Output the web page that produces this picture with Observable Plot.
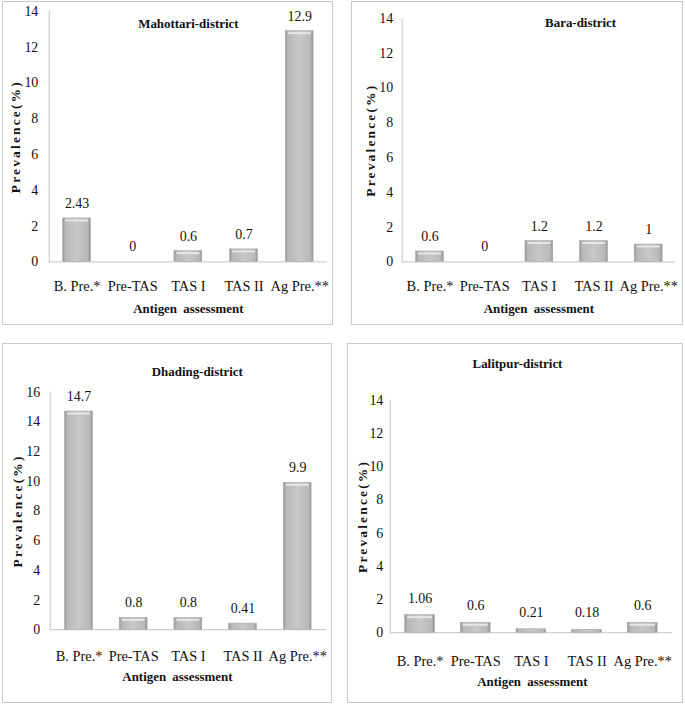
<!DOCTYPE html>
<html>
<head>
<meta charset="utf-8">
<script src="https://cdn.jsdelivr.net/npm/d3@7"></script>
<script src="https://cdn.jsdelivr.net/npm/@observablehq/plot@0.6"></script>
<style>
  html, body { margin: 0; padding: 0; background: #fff; }
  #fig { position: relative; width: 685px; height: 706px; overflow: hidden; background: #fff; }
  .panel { position: absolute; box-sizing: border-box; border: 1px solid #cacaca; }
  .panel svg { position: absolute; left: -1px; top: -1px; overflow: visible; }
</style>
</head>
<body>
<div id="fig"></div>
<script>
// ---- data ----
const categories = ["B. Pre.*", "Pre-TAS", "TAS I", "TAS II", "Ag Pre.**"];
const districts = ["Mahottari-district", "Bara-district", "Dhading-district", "Lalitpur-district"];
const mahottari = [2.43, 0, 0.6, 0.7, 12.9];
const bara = [0.6, 0, 1.2, 1.2, 1];
const dhading = [14.7, 0.8, 0.8, 0.41, 9.9];
const lalitpur = [1.06, 0.6, 0.21, 0.18, 0.6];
const yMaxes = [14, 14, 16, 14];
const yTitle = "Prevalence(%)";
const xTitle = "Antigen assessment";
const seriesList = [mahottari, bara, dhading, lalitpur];

// ---- layout (positions only) ----
const layouts = [
  {left: 2, top: 1, w: 331, h: 324, m: [10, 4, 62, 47], yPad: 11, xPad: 19, tDx: 0, tDy: 12, yDx: -34, xDy: 47, xDx: 0, lDy: -15, pin: 0.5},
  {left: 351, top: 1, w: 332, h: 324, m: [17, 6, 62, 51], yPad: 9, xPad: 19, tDx: 42, tDy: 4, yDx: -32, xDy: 47, xDx: 0, lDy: -15, pin: 0.5},
  {left: 2, top: 343, w: 330, h: 360, m: [49, 4, 72, 48], yPad: 10, xPad: 21, tDx: 9, tDy: -20, yDx: -33, xDy: 47, xDx: -11, lDy: -15, pin: 0.5},
  {left: 347, top: 343, w: 336, h: 360, m: [57, 9, 69, 43], yPad: 7, xPad: 23, tDx: -14, tDy: -37, yDx: -28, xDy: 49, xDx: 1, lDy: -17, pin: 0.47}
];

const fig = document.getElementById("fig");

seriesList.forEach((vals, i) => {
  const L = layouts[i];
  const data = categories.map((c, j) => ({cat: c, value: vals[j]}));
  const yMax = yMaxes[i];
  const gid = "barGrad" + i;

  const plot = Plot.plot({
    width: L.w,
    height: L.h,
    marginTop: L.m[0],
    marginRight: L.m[1],
    marginBottom: L.m[2],
    marginLeft: L.m[3],
    style: {fontFamily: "'Liberation Serif', 'Times New Roman', serif", fontSize: "14px", color: "#111", background: "transparent"},
    x: {domain: categories, paddingInner: L.pin, paddingOuter: L.pin / 2},
    y: {domain: [0, yMax]},
    marks: [
      Plot.frame({anchor: "left", stroke: "#c4c4c4"}),
      Plot.ruleY([0], {stroke: "#c4c4c4", strokeWidth: 1}),
      Plot.barY(data, {x: "cat", y: "value", fill: "#c4c4c4", stroke: "#a8a8a8", strokeWidth: 0.6}),
      Plot.tickY(data.filter(d => d.value >= 0.5), {x: "cat", y: "value", dy: 2, stroke: "#e6e6e6", strokeWidth: 2, insetLeft: 2.5, insetRight: 2.5}),
      Plot.text(data, {x: "cat", y: "value", text: d => String(d.value), dy: L.lDy, lineAnchor: "middle", fontSize: 14, fill: "#111"}),
      Plot.axisY({ticks: d3.range(0, yMax + 0.1, 2), tickSize: 0, tickPadding: L.yPad, label: null, fontSize: 14}),
      Plot.axisX({tickSize: 0, tickPadding: L.xPad, label: null, fontSize: 14.5}),
      Plot.text([districts[i]], {text: d => d, frameAnchor: "top", dx: L.tDx, dy: L.tDy, textAnchor: "middle", lineAnchor: "middle", fontWeight: "bold", fontSize: 13, fill: "#111"}),
      Plot.text([yTitle], {text: d => d, frameAnchor: "left", dx: L.yDx, rotate: -90, textAnchor: "middle", lineAnchor: "middle", fontWeight: "bold", fontSize: 13.5, fill: "#111"}),
      Plot.text([xTitle], {text: d => d, frameAnchor: "bottom", dx: L.xDx, dy: L.xDy, textAnchor: "middle", lineAnchor: "middle", fontWeight: "bold", fontSize: 13, fill: "#111"})
    ]
  });

  // gradient for the bevelled bars
  const ns = "http://www.w3.org/2000/svg";
  const defs = document.createElementNS(ns, "defs");
  defs.innerHTML = `<linearGradient id="${gid}" x1="0" x2="1" y1="0" y2="0">
      <stop offset="0" stop-color="#979797"/>
      <stop offset="0.1" stop-color="#b8b8b8"/>
      <stop offset="0.5" stop-color="#c8c8c8"/>
      <stop offset="0.9" stop-color="#b8b8b8"/>
      <stop offset="1" stop-color="#949494"/>
    </linearGradient>`;
  plot.insertBefore(defs, plot.firstChild);
  const barG = plot.querySelector('g[aria-label="bar"]');
  if (barG) {
    barG.setAttribute("fill", `url(#${gid})`);
    barG.querySelectorAll("rect").forEach(r => r.removeAttribute("fill"));
  }
  const textGs = plot.querySelectorAll('g[aria-label="text"]');
  // order: value labels, district title, y title, x title
  if (textGs[2]) textGs[2].style.letterSpacing = "2.2px";
  if (textGs[3]) textGs[3].style.wordSpacing = "3px";

  const div = document.createElement("div");
  div.className = "panel";
  div.style.left = L.left + "px";
  div.style.top = L.top + "px";
  div.style.width = L.w + "px";
  div.style.height = L.h + "px";
  div.appendChild(plot);
  fig.appendChild(div);
});
</script>
</body>
</html>
